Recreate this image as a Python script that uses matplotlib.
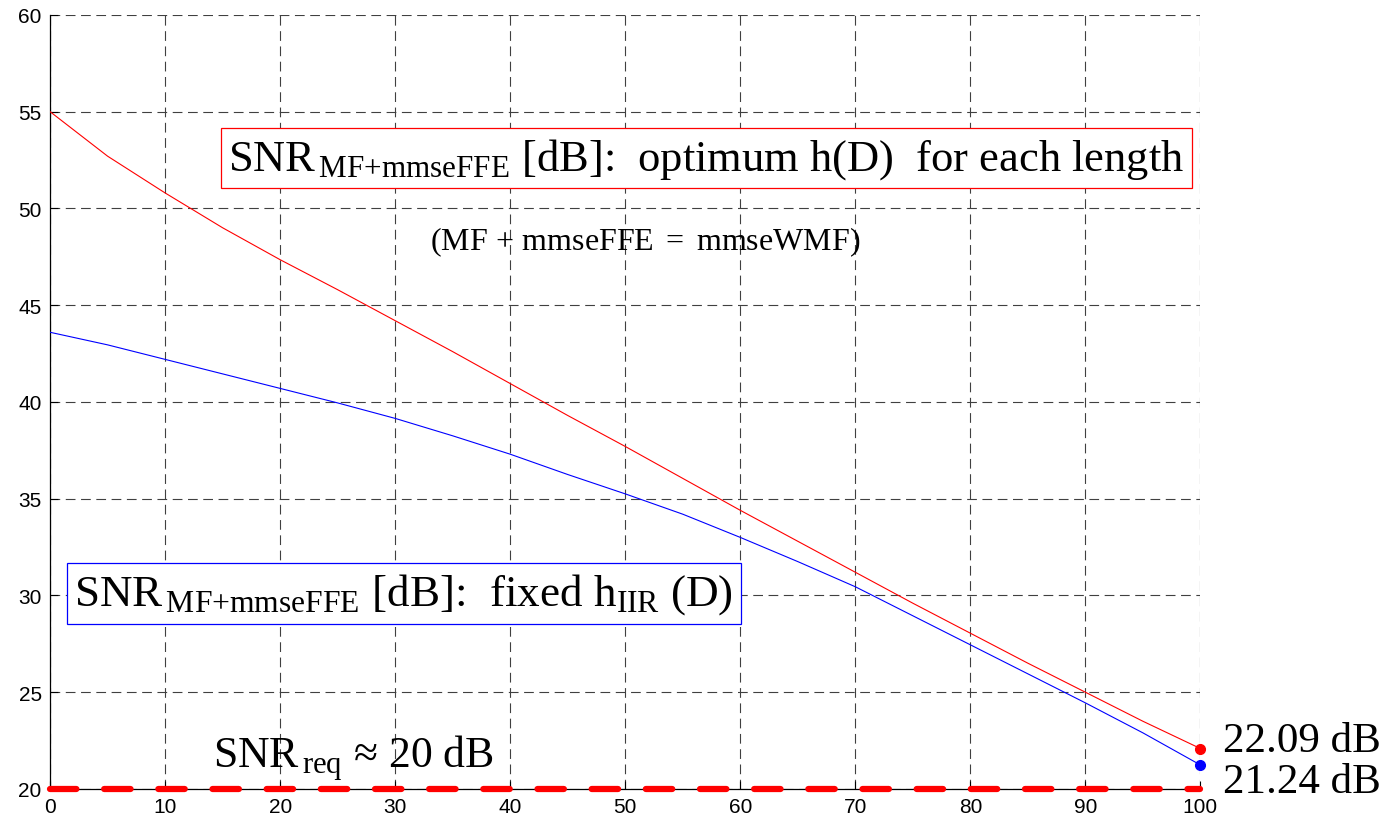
import numpy as np
import matplotlib
matplotlib.use('Agg')
import matplotlib.pyplot as plt

plt.rcParams['mathtext.fontset'] = 'custom'
plt.rcParams['mathtext.rm'] = 'Liberation Serif'
plt.rcParams['mathtext.it'] = 'Liberation Serif:italic'
plt.rcParams['lines.scale_dashes'] = False

# dados
comp = [0, 5, 10, 15, 20, 25, 30, 35, 40, 45, 50, 55, 60, 65, 70, 75, 80, 85, 90, 95, 100]
snr_opt = [55.0, 52.7, 50.8, 49.0, 47.35, 45.8, 44.2, 42.6, 40.95, 39.3, 37.7,
           36.05, 34.4, 32.8, 31.2, 29.6, 28.05, 26.5, 25.0, 23.5, 22.09]
snr_iir = [43.6, 42.95, 42.2, 41.45, 40.7, 39.95, 39.15, 38.25, 37.3, 36.25, 35.25,
           34.2, 33.0, 31.75, 30.45, 28.95, 27.45, 25.95, 24.45, 22.9, 21.24]
snr_req = 20
x_ticks = list(range(0, 101, 10))
y_ticks = list(range(20, 61, 5))

serif = 'Liberation Serif'

fig = plt.figure(figsize=(13.91, 8.2), dpi=100)
ax = fig.add_axes([0.036, 0.0366, 0.827, 0.944])

# curvas
ax.plot(comp, snr_opt, '-', color='red', linewidth=0.8, zorder=3)
ax.plot(comp, snr_iir, '-', color='blue', linewidth=0.8, zorder=3)
ax.plot(comp[-1], snr_opt[-1], 'o', color='red', markersize=7, zorder=4, clip_on=False)
ax.plot(comp[-1], snr_iir[-1], 'o', color='blue', markersize=7, zorder=4, clip_on=False)
ax.plot([comp[0], comp[-1]], [snr_req, snr_req], color='red', linewidth=4.5,
        dashes=(19, 20), dash_capstyle='round', zorder=5, clip_on=False)

ax.set_xlim(0, 100)
ax.set_ylim(20, 60)
ax.set_xticks(x_ticks)
ax.set_yticks(y_ticks)
ax.tick_params(direction='in', length=6, width=0.8, labelsize=15, pad=6)
for lab in ax.get_xticklabels() + ax.get_yticklabels():
    lab.set_family('Liberation Sans')

ax.grid(True, color='0.25', linestyle=(0, (7, 4)), linewidth=0.8)
ax.spines['top'].set_visible(False)
ax.spines['right'].set_visible(False)
ax.spines['left'].set_linewidth(0.9)
ax.spines['bottom'].set_linewidth(0.9)

# anotacoes
ax.text(15.5, 52.6, r'SNR$_{\,\rm MF{+}mmseFFE}$ [dB]:  optimum h(D)  for each length',
        family=serif, fontsize=32, ha='left', va='center', zorder=6,
        bbox=dict(boxstyle='square,pad=0.17', facecolor='white', edgecolor='red', linewidth=0.9))
ax.text(51.7, 48.3, r'$\rm (MF\,+\,mmseFFE\ =\ mmseWMF)$', family=serif, fontsize=23,
        ha='center', va='center', zorder=6)
ax.text(2.1, 30.1, r'SNR$_{\,\rm MF{+}mmseFFE}$ [dB]:  fixed h$_{\rm IIR}$ (D)',
        family=serif, fontsize=32.5, ha='left', va='center', zorder=6,
        bbox=dict(boxstyle='square,pad=0.17', facecolor='white', edgecolor='blue', linewidth=0.9))
ax.text(14.2, 21.14, r'SNR$_{\,\rm req}$ ≈ 20 dB', family=serif, fontsize=31.5,
        ha='left', va='baseline', zorder=6)
ax.text(102, 21.96, '%.2f dB' % snr_opt[-1], family=serif, fontsize=31,
        ha='left', va='baseline', clip_on=False)
ax.text(102, 19.85, '%.2f dB' % snr_iir[-1], family=serif, fontsize=31,
        ha='left', va='baseline', clip_on=False)

plt.savefig('out.png', dpi=100)
